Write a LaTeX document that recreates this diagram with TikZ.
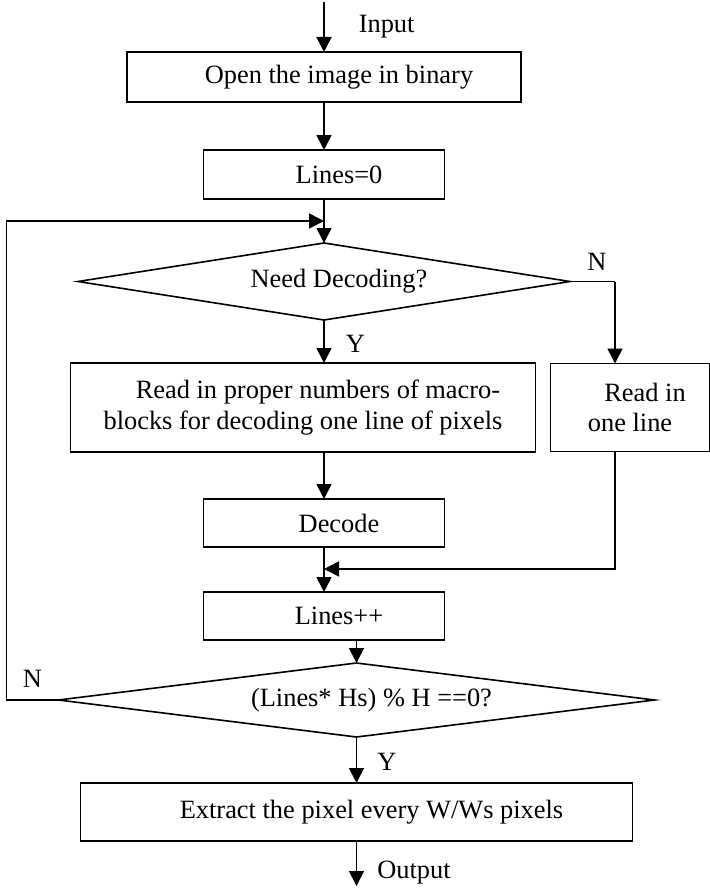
\documentclass[tikz,border=0pt]{standalone}
\usepackage{fontspec}
\setmainfont{Liberation Serif}
\usepackage{tikz}
\usetikzlibrary{shapes.geometric, arrows.meta, positioning, calc}

\newcommand{\firstind}{\hspace*{15pt}}

\begin{document}
\begin{tikzpicture}[
    block/.style={rectangle, draw=black, line width=0.8pt, align=center, inner sep=0pt, outer sep=0pt, font=\fontsize{13.2}{15.3}\selectfont},
    decision/.style={diamond, draw=black, line width=0.8pt, align=center, inner sep=0pt, outer sep=0pt, font=\fontsize{13.2}{15.3}\selectfont},
    arrow/.style={-{Triangle[length=7.5pt, width=7.5pt]}, line width=0.8pt, color=black},
    tag/.style={inner sep=0pt, font=\fontsize{13.2}{15.3}\selectfont},
]
\useasboundingbox (0,0) rectangle (355pt,-444pt);

\node[block, minimum width=197pt, minimum height=25pt] (open) at (162pt,-38.5pt) {\firstind Open the image in binary};
\node[block, minimum width=120.5pt, minimum height=24.5pt, below=24pt of open] (zero) {\firstind Lines=0};
\node[decision, minimum width=246pt, minimum height=38.5pt, aspect=6.4, below=22pt of zero] (need) {\firstind Need Decoding?};
\node[block, minimum width=232.5pt, minimum height=44.5pt, below=21.5pt of need, xshift=-10.5pt] (readmb) {\firstind Read in proper numbers of macro-\\blocks for decoding one line of pixels};
\node[block, minimum width=79.5pt, minimum height=44pt, right=7.5pt of readmb] (readln) {\firstind Read in\\one line};
\node[block, minimum width=120.5pt, minimum height=24pt, below=23.5pt of readmb, xshift=10.5pt] (decode) {\firstind Decode};
\node[block, minimum width=120.5pt, minimum height=24pt, below=22.5pt of decode] (incr) {\firstind Lines++};
\node[decision, minimum width=298pt, minimum height=37pt, aspect=8, below=11.5pt of incr, xshift=16.25pt] (check) {\firstind (Lines* Hs) \% H ==0?};
\node[block, minimum width=276pt, minimum height=29pt, below=23pt of check] (extract) {\firstind Extract the pixel every W/Ws pixels};

\coordinate (in) at ([yshift=25pt]open.north);
\coordinate (loop) at ([yshift=11pt]need.north);
\coordinate (ncorner) at ([xshift=22.5pt]need.east);
\coordinate (merge) at ([yshift=-11pt]decode.south);
\coordinate (out) at ([yshift=-22.5pt]extract.south);

\draw[arrow] (in) -- (open) node[tag, midway, right=17pt] {Input};
\draw[arrow] (open) -- (zero);
\draw[arrow] (zero) -- (need);
\draw[arrow] (need.south) -- (need.south |- readmb.north) node[tag, pos=0.55, right=10.5pt] {Y};
\draw[line width=0.8pt] (need.east) -- (ncorner) node[tag, pos=0.6, above=5pt] {N};
\draw[arrow] (ncorner) -- (ncorner |- readln.north);
\draw[arrow] (readmb.south -| decode.north) -- (decode.north);
\draw[arrow] (decode) -- (incr);
\draw[arrow] (ncorner |- readln.south) |- (merge);
\draw[arrow] (incr.south -| check.north) -- (check.north);
\draw[arrow] (check.south) -- (extract.north) node[tag, pos=0.55, right=10pt] {Y};
\draw[arrow] (check.west) -- ++(-26pt,0) node[tag, midway, above=6pt] {N} |- (loop);
\draw[arrow] (extract) -- (out) node[tag, pos=0.7, right=10pt] {Output};

\end{tikzpicture}
\end{document}
